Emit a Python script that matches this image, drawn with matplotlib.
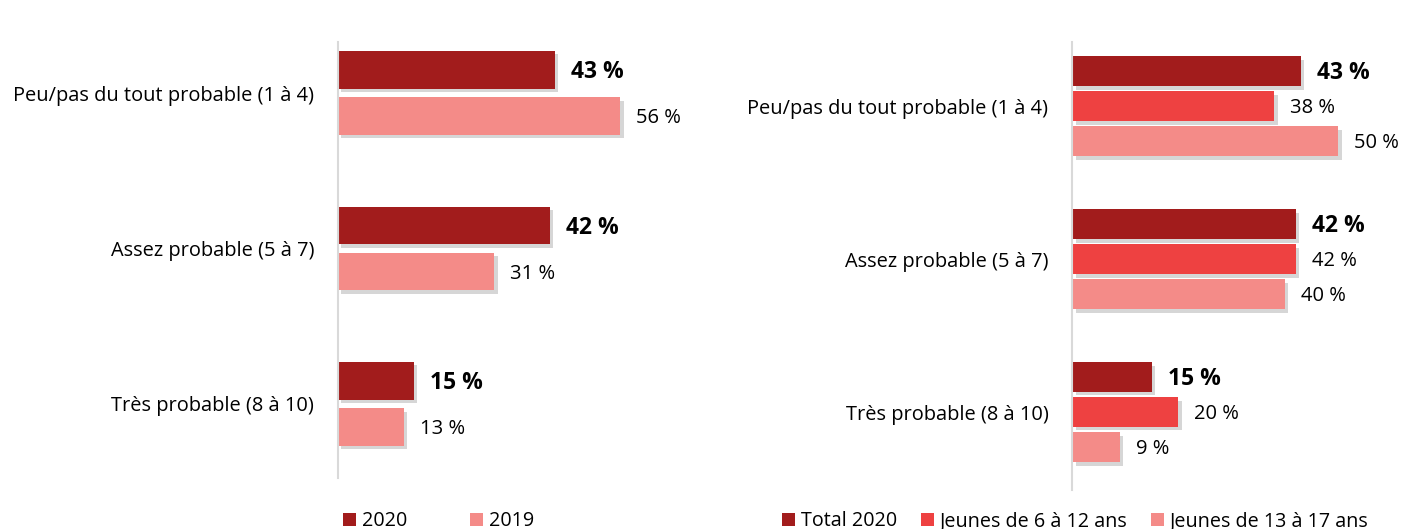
import numpy as np
import matplotlib.pyplot as plt
import matplotlib.patheffects as pe
from matplotlib.patches import Patch

plt.rcParams['font.family'] = ['Open Sans', 'DejaVu Sans']

# data
categories = ['Peu/pas du tout probable (1 à 4)', 'Assez probable (5 à 7)', 'Très probable (8 à 10)']
left_series = ['2020', '2019']
left_values = [[43, 42, 15], [56, 31, 13]]
right_series = ['Total 2020', 'Jeunes de 6 à 12 ans', 'Jeunes de 13 à 17 ans']
right_values = [[43, 42, 15], [38, 42, 20], [50, 40, 9]]

dark = '#A21C1C'
mid = '#EE4141'
pink = '#F48B88'
axis_col = '#D9D9D9'

fig = plt.figure(figsize=(14.03, 5.29), dpi=100)
ax1 = fig.add_axes([0.2409, 0.0964, 0.2516, 0.8242])
ax2 = fig.add_axes([0.7641, 0.0737, 0.2352, 0.8469])

shadow = [pe.SimplePatchShadow(offset=(2.5, -2.5), shadow_rgbFace='#999999', alpha=0.4), pe.Normal()]


def draw_panel(ax, values, series, colors, offsets, height, xmax, ylim):
    y = np.arange(len(categories))
    for i, (vals, col) in enumerate(zip(values, colors)):
        bars = ax.barh(y + offsets[i], vals, height=height, color=col, path_effects=shadow)
        for b, v in zip(bars, vals):
            bold = i == 0
            ax.annotate(f'{v} %', (b.get_width(), b.get_y() + b.get_height() / 2),
                        xytext=(11.5, -1.5), textcoords='offset points', va='center', ha='left',
                        fontsize=16.5 if bold else 14.5, fontweight='bold' if bold else 'normal',
                        color='black')
    ax.set_xlim(0, xmax)
    ax.set_ylim(*ylim)
    ax.set_yticks(y)
    ax.set_yticklabels(categories, fontsize=14.4)
    ax.tick_params(axis='y', length=0, pad=17)
    ax.set_xticks([])
    for s in ['top', 'right', 'bottom']:
        ax.spines[s].set_visible(False)
    ax.spines['left'].set_color(axis_col)
    ax.spines['left'].set_linewidth(1.5)
    leg_handles = [Patch(facecolor=c, edgecolor='none', label=s) for s, c in zip(series, colors)]
    return leg_handles


h1 = draw_panel(ax1, left_values, left_series, [dark, pink], [-0.148, 0.148], 0.244, 70, (2.476, -0.328))
h2 = draw_panel(ax2, right_values, right_series, [dark, mid, pink], [-0.229, 0.0, 0.229], 0.196, 62, (2.51, -0.42))

leg_kw = dict(loc='center left', frameon=False, fontsize=14.2, handlelength=0.66, handleheight=0.66,
              handletextpad=0.3, borderaxespad=0, borderpad=0)
fig.legend(handles=h1, bbox_to_anchor=(0.2445, 0.0145), ncol=2, columnspacing=3.2, **leg_kw)
fig.legend(handles=h2, bbox_to_anchor=(0.5574, 0.0145), ncol=3, columnspacing=1.2, **leg_kw)

fig.savefig('out.png', dpi=100)
